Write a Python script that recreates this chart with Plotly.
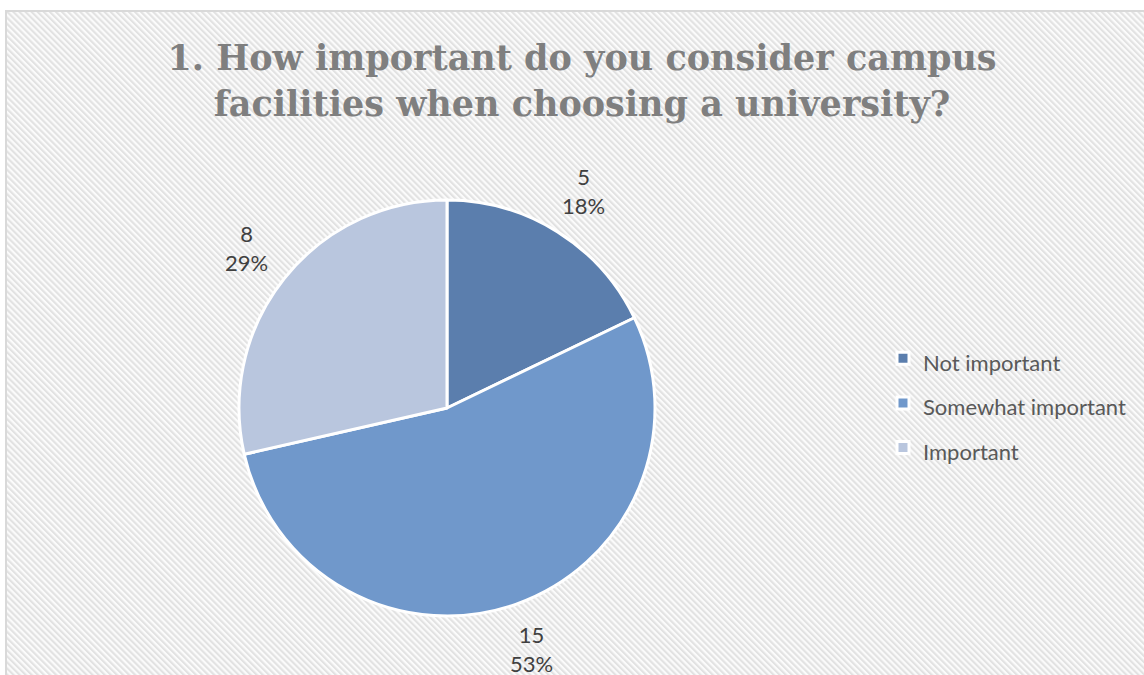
import math
import base64
import plotly.graph_objects as go

# ---- data ----
categories = ["Not important", "Somewhat important", "Important"]
counts = [5, 15, 8]
percent_labels = ["18%", "53%", "29%"]
title_text = "1. How important do you consider campus<br>facilities when choosing a university?"

slice_colors = ["#5b7ead", "#7098cb", "#b9c6de"]

W, H = 1144, 675
cx, cy, r = 447, 408, 208  # pie centre / radius in pixels (cy from top)

# hatched chart background as an inline svg image
svg = f"""<svg xmlns='http://www.w3.org/2000/svg' width='{W}' height='{H}' viewBox='0 0 {W} {H}'>
<defs><pattern id='h' width='4.3' height='4.3' patternUnits='userSpaceOnUse' patternTransform='rotate(-45)'>
<rect width='4.3' height='4.3' fill='#fbfbfb'/><rect width='2.1' height='4.3' fill='#e2e2e2'/></pattern></defs>
<rect x='6' y='11' width='{W}' height='{H}' fill='url(#h)'/>
</svg>"""
svg_uri = "data:image/svg+xml;base64," + base64.b64encode(svg.encode()).decode()

legend_labels = [f"<span style='font-size:22px'>{c}</span>" for c in categories]

fig = go.Figure(go.Pie(
    labels=legend_labels,
    values=counts,
    sort=False,
    direction="clockwise",
    rotation=0,
    textinfo="none",
    marker=dict(colors=slice_colors, line=dict(color="white", width=3)),
    domain=dict(x=[(cx - r) / W, (cx + r) / W], y=[(H - cy - r) / H, (H - cy + r) / H]),
    hoverinfo="label+value+percent",
))

# data labels outside each slice at its mid-angle
total = sum(counts)
acc = 0
annotations = []
for c, p in zip(counts, percent_labels):
    mid = (acc + c / 2) / total * 2 * math.pi
    acc += c
    d = 1.23 * r
    px = cx + d * math.sin(mid)
    py = (H - cy) + d * math.cos(mid)
    annotations.append(dict(
        x=px / W, y=py / H, xref="paper", yref="paper",
        text=f"{c}<br>{p}", showarrow=False,
        font=dict(family="Lato", size=22, color="#404040"),
        xanchor="center", yanchor="middle", align="center",
    ))

fig.update_layout(
    width=W, height=H,
    margin=dict(l=0, r=0, t=0, b=0),
    paper_bgcolor="white",
    title=dict(
        text=title_text, x=582 / W, xanchor="center", xref="paper",
        y=(H - 70) / H, yanchor="top", yref="paper",
        font=dict(family="DejaVu Serif", size=35, color="#7f7f7f", weight="bold"),
    ),
    legend=dict(
        x=883 / W, xanchor="left", y=(H - 403) / H, yanchor="middle",
        font=dict(family="Lato", size=32, color="#595959"),
        bgcolor="rgba(0,0,0,0)",
    ),
    annotations=annotations,
    images=[dict(source=svg_uri, xref="paper", yref="paper", x=0, y=1,
                 sizex=1, sizey=1, sizing="stretch", layer="below",
                 xanchor="left", yanchor="top")],
    shapes=[dict(type="rect", xref="paper", yref="paper",
                 x0=6 / W, y0=-0.01, x1=1.01, y1=(H - 11) / H,
                 line=dict(color="#d9d9d9", width=2), fillcolor="rgba(0,0,0,0)")],
)

fig.write_html("out.html", config={"displayModeBar": False},
               post_script="document.body.style.margin='0';")
